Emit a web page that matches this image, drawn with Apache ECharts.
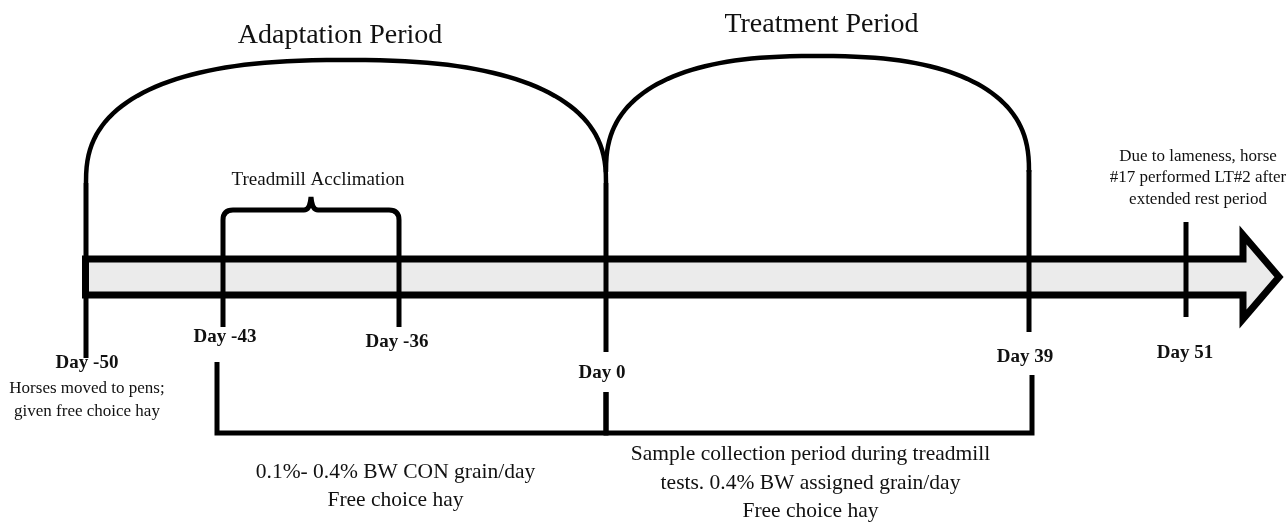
<!doctype html>
<html lang="en">
<head>
<meta charset="UTF-8">
<title>Study timeline</title>
<style>
    *{margin: 0; padding: 0}
    html, body {width: 1288px; height: 522px; background: #fff; overflow: hidden}
    #block {width: 1288px; height: 522px}
</style>
</head>
<body>
<div id="block"></div>

<script src="https://cdn.jsdelivr.net/npm/echarts@6/dist/echarts.min.js"></script>
<script>
    // ---- data ----
    // the drawing is not to scale, so every event keeps its own slot on the drawn axis
    const eventDays = [-50, -43, -36, 0, 39, 51];
    const eventLabels = eventDays.map(d => 'Day ' + d);
    const eventSlots = [86, 223, 399, 606, 1029, 1186];
    const eventNotes = [
        'Horses moved to pens;\ngiven free choice hay', '', '', '', '',
        'Due to lameness, horse\n#17 performed LT#2 after\nextended rest period'
    ];

    // periods shown as arches (index into the events)
    const periodNames = ['Adaptation Period', 'Treatment Period'];
    const periodFrom = [0, 3];
    const periodTo = [3, 4];

    // treadmill acclimation brace
    const braceName = 'Treadmill Acclimation';
    const braceFrom = 1, braceTo = 2;

    // feeding notes under the bottom bracket
    const feedNotes = [
        '0.1%- 0.4% BW CON grain/day\nFree choice hay',
        'Sample collection period during treadmill\ntests. 0.4% BW assigned grain/day\nFree choice hay'
    ];
    const feedFrom = [1, 3];
    const feedTo = [3, 4];
</script>
<script>
    // ---- layout (y grows downward, same units as the hidden axes) ----
    const arrow = {top: 259, bottom: 295, headBack: 1243, headTop: 235, headBottom: 319, tip: 1279};
    const archBase = [183, 172], archTop = [60, 56], titleY = [36, 25], titleDx = [-6, 4];
    const lineTop = [183, 235, 235, 183, 170, 222];
    const lineBottom = [358, 327, 327, 352, 332, 317];
    const labelY = [363, 337, 342, 373, 357, 353];
    const labelDx = [1, 2, -2, -4, -4, -1];
    const noteY = [400, 0, 0, 0, 0, 178], noteDx = [1, 0, 0, 0, 0, 12], noteLH = [23, 0, 0, 0, 0, 21.5];
    const lowerTop = [0, 362, 0, 392, 375, 0], lowerDx = [0, -6, 0, 0, 3, 0];
    const bracketY = 433;
    const brace = {y: 210, tipY: 197, legY: 235, titleY: 180};
    const feedY = [486, 483], feedDx = [-19, -7], feedLH = [28, 28.5];

    const ink = '#000';
    const txt = '#111';
    const serif = "'Liberation Serif', 'Times New Roman', serif";

    function font(size, weight) {
        return (weight || 'normal') + ' ' + size + 'px ' + serif;
    }
    function textEl(p, text, size, weight, lh) {
        return {
            type: 'text',
            style: {text: text, x: p[0], y: p[1], fill: txt, font: font(size, weight),
                align: 'center', verticalAlign: 'middle', lineHeight: lh}
        };
    }
    // super-ellipse arch between two slots
    function archPoints(api, x0, x1, yBase, yTop) {
        const cx = (x0 + x1) / 2, a = (x1 - x0) / 2, b = yBase - yTop, n = 2.5;
        const pts = [];
        for (let k = 0; k <= 80; k++) {
            const t = Math.PI - Math.PI * k / 80;
            const c = Math.cos(t), s = Math.sin(t);
            pts.push(api.coord([cx + a * Math.sign(c) * Math.pow(Math.abs(c), 2 / n),
                yBase - b * Math.pow(Math.abs(s), 2 / n)]));
        }
        return pts;
    }

    const block = document.getElementById('block');
    const chart = echarts.init(block);

    const option = {
        animation: false,
        grid: {left: 0, right: 0, top: 0, bottom: 0},
        xAxis: {type: 'value', min: 0, max: 1288, show: false},
        yAxis: {type: 'value', min: 0, max: 522, inverse: true, show: false},
        series: [{
            // timeline arrow
            type: 'custom', z: 1,
            data: [[eventSlots[0]]],
            renderItem: function (params, api) {
                const x0 = api.value(0) - 0.5;
                const p = [[x0, arrow.top], [arrow.headBack, arrow.top], [arrow.headBack, arrow.headTop],
                    [arrow.tip, (arrow.top + arrow.bottom) / 2], [arrow.headBack, arrow.headBottom],
                    [arrow.headBack, arrow.bottom], [x0, arrow.bottom]].map(q => api.coord(q));
                return {type: 'polygon', shape: {points: p},
                    style: {fill: '#ebebeb', stroke: ink, lineWidth: 7, lineJoin: 'miter'}};
            }
        }, {
            // period arches
            type: 'custom', z: 2,
            data: periodNames.map((n, i) => [eventSlots[periodFrom[i]], eventSlots[periodTo[i]], i]),
            renderItem: function (params, api) {
                const i = api.value(2);
                return {type: 'polyline',
                    shape: {points: archPoints(api, api.value(0), api.value(1), archBase[i], archTop[i])},
                    style: {fill: null, stroke: ink, lineWidth: 4.5}};
            }
        }, {
            // treadmill acclimation brace
            type: 'custom', z: 2,
            data: [[eventSlots[braceFrom], eventSlots[braceTo]]],
            renderItem: function (params, api) {
                const a = api.value(0), b = api.value(1), m = (a + b) / 2;
                const c = q => api.coord(q);
                const p0 = c([a, brace.legY]), p1 = c([a, brace.y + 10]), p2 = c([a, brace.y]), p3 = c([a + 10, brace.y]);
                const p4 = c([m - 7, brace.y]), p5 = c([m - 1, brace.y]), tip = c([m, brace.tipY]);
                const p6 = c([m + 1, brace.y]), p7 = c([m + 7, brace.y]);
                const p8 = c([b - 10, brace.y]), p9 = c([b, brace.y]), p10 = c([b, brace.y + 10]), p11 = c([b, brace.legY]);
                const d = 'M' + p0 + 'L' + p1 + 'Q' + p2 + ' ' + p3 + 'L' + p4 + 'Q' + p5 + ' ' + tip +
                    'Q' + p6 + ' ' + p7 + 'L' + p8 + 'Q' + p9 + ' ' + p10 + 'L' + p11;
                return {type: 'path', shape: {pathData: d},
                    style: {fill: null, stroke: ink, lineWidth: 5}};
            }
        }, {
            // event markers
            type: 'custom', z: 3,
            data: eventSlots.map((s, i) => [s, i]),
            renderItem: function (params, api) {
                const x = api.value(0), i = api.value(1);
                const a = api.coord([x, lineTop[i]]), b = api.coord([x, lineBottom[i]]);
                return {type: 'line', shape: {x1: a[0], y1: a[1], x2: b[0], y2: b[1]},
                    style: {stroke: ink, lineWidth: 5}};
            }
        }, {
            // bottom bracket for the feeding periods
            type: 'custom', z: 3,
            data: feedNotes.map((n, i) => [eventSlots[feedFrom[i]], eventSlots[feedTo[i]], feedFrom[i], feedTo[i]]),
            renderItem: function (params, api) {
                const i0 = api.value(2), i1 = api.value(3);
                const x0 = api.value(0) + lowerDx[i0], x1 = api.value(1) + lowerDx[i1];
                const pts = [[x0, lowerTop[i0]], [x0, bracketY], [x1, bracketY], [x1, lowerTop[i1]]].map(q => api.coord(q));
                return {type: 'polyline', shape: {points: pts},
                    style: {fill: null, stroke: ink, lineWidth: 5, lineJoin: 'miter'}};
            }
        }, {
            // day labels and notes
            type: 'custom', z: 4,
            data: eventSlots.map((s, i) => [s, i]),
            renderItem: function (params, api) {
                const x = api.value(0), i = api.value(1);
                const kids = [textEl(api.coord([x + labelDx[i], labelY[i]]), eventLabels[i], 19, 'bold')];
                if (eventNotes[i]) {
                    kids.push(textEl(api.coord([x + noteDx[i], noteY[i]]), eventNotes[i], 17, 'normal', noteLH[i]));
                }
                return {type: 'group', children: kids};
            }
        }, {
            // period titles
            type: 'custom', z: 4,
            data: periodNames.map((n, i) => [eventSlots[periodFrom[i]], eventSlots[periodTo[i]], i]),
            renderItem: function (params, api) {
                const i = api.value(2), m = (api.value(0) + api.value(1)) / 2;
                return textEl(api.coord([m + titleDx[i], titleY[i]]), periodNames[i], 28);
            }
        }, {
            // brace title
            type: 'custom', z: 4,
            data: [[eventSlots[braceFrom], eventSlots[braceTo]]],
            renderItem: function (params, api) {
                const m = (api.value(0) + api.value(1)) / 2;
                return textEl(api.coord([m + 7, brace.titleY]), braceName, 19);
            }
        }, {
            // feeding notes
            type: 'custom', z: 4,
            data: feedNotes.map((n, i) => [eventSlots[feedFrom[i]], eventSlots[feedTo[i]], i]),
            renderItem: function (params, api) {
                const i = api.value(2), m = (api.value(0) + api.value(1)) / 2;
                return textEl(api.coord([m + feedDx[i], feedY[i]]), feedNotes[i], 21.5, 'normal', feedLH[i]);
            }
        }]
    };
    chart.setOption(option);
</script>
</body>
</html>
